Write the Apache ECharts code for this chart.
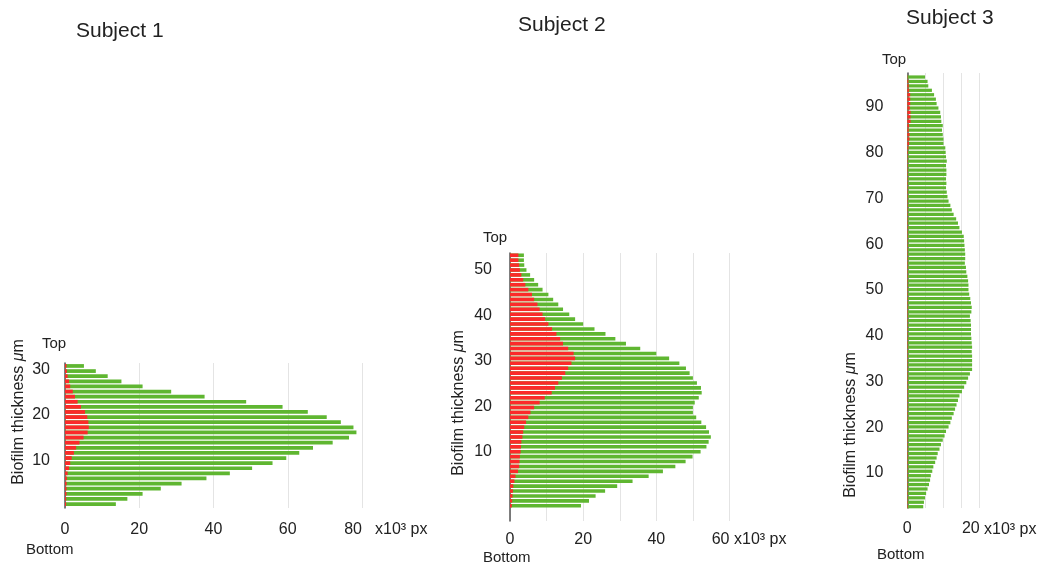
<!DOCTYPE html>
<html><head><meta charset="utf-8">
<script src="https://cdn.jsdelivr.net/npm/echarts@6/dist/echarts.min.js"></script>
<style>html,body{margin:0;padding:0;background:#fff}#c{width:1052px;height:567px}</style>
</head><body><div id="c"></div>
<script>
// Subject 1 (top -> bottom slices), x10^3 px
const s1Total = [5.1, 8.3, 11.5, 15.2, 20.9, 28.6, 37.6, 48.8, 58.6, 65.4, 70.5, 74.3, 77.7, 78.5, 76.5, 72.1, 66.8, 63.1, 59.6, 55.9, 50.4, 44.4, 38.1, 31.4, 25.8, 20.9, 16.8, 13.7];
const s1Red = [0.4, 0.5, 0.7, 1.1, 1.4, 2.1, 2.7, 3.4, 4.3, 5.4, 6.0, 6.3, 6.4, 6.1, 5.0, 3.9, 3.0, 2.4, 1.8, 1.4, 1.1, 0.7, 0.5, 0.45, 0.4, 0.4, 0.3, 0.3];
// Subject 2
const s2Total = [3.8, 3.8, 3.9, 4.5, 5.5, 6.6, 7.7, 8.9, 10.5, 11.8, 13.2, 14.5, 16.2, 17.8, 20.0, 23.1, 26.1, 28.8, 31.7, 35.6, 40.0, 43.5, 46.3, 48.1, 49.1, 50.0, 51.1, 52.2, 52.4, 51.6, 50.5, 50.0, 50.0, 50.9, 52.3, 53.6, 54.4, 54.9, 54.3, 53.7, 52.1, 49.9, 48.0, 45.2, 41.8, 37.9, 33.5, 29.3, 26.0, 23.4, 21.6, 19.4];
const s2Red = [2.3, 2.3, 2.5, 2.7, 3.1, 3.6, 4.2, 5.0, 6.0, 6.6, 7.5, 8.1, 8.9, 9.6, 10.5, 11.5, 12.7, 13.7, 14.5, 15.9, 17.4, 17.8, 16.8, 15.9, 15.1, 14.2, 13.2, 12.3, 11.4, 9.5, 8.1, 6.6, 5.6, 5.0, 4.4, 3.9, 3.6, 3.4, 3.1, 3.0, 2.9, 2.7, 2.6, 2.5, 2.2, 1.5, 1.2, 0.9, 0.8, 0.7, 0.6, 0.5];
// Subject 3
const s3Total = [4.9, 5.6, 5.8, 6.8, 7.4, 7.9, 8.1, 8.6, 9.1, 9.3, 9.4, 9.8, 9.6, 9.8, 10.0, 10.0, 10.5, 10.6, 10.7, 10.9, 10.7, 10.8, 10.8, 10.7, 10.8, 10.7, 10.9, 11.1, 11.4, 11.9, 12.3, 12.8,
  13.5, 14.0, 14.4, 15.1, 15.6, 15.7, 15.8, 15.9, 16.0, 16.0, 15.9, 16.2, 16.3, 16.6, 16.8, 16.9, 16.9, 17.1, 17.4, 17.6, 17.8, 17.7, 17.3, 17.5, 17.6, 17.6, 17.6, 17.7, 17.8, 17.9, 17.8, 17.9, 17.9,
  17.9, 17.9, 17.3, 16.8, 16.3, 15.7, 15.1, 14.4, 14.0, 13.6, 13.2, 12.8, 12.3, 11.9, 11.4, 10.7, 10.3, 9.8, 9.3, 8.9, 8.4, 8.1, 7.7, 7.2, 6.9, 6.5, 6.3, 6.0, 5.6, 5.2, 4.9, 4.6, 4.4];
const s3Red = [0.1, 0.3, 0.4, 0.5, 0.8, 0.8, 0.8, 0.7, 0.9, 0.9, 0.9, 0.5, 0.4, 0.6, 0.6, 0.5, 0.3, 0.2, 0.15, 0.15, 0.15, 0.15, 0.15, 0.15, 0.15, 0.15, 0.15, 0.15, 0.15, 0.15, 0.15, 0.15,
  0.15, 0.15, 0.15, 0.15, 0.15, 0.15, 0.15, 0.15, 0.15, 0.15, 0.15, 0.15, 0.15, 0.15, 0.15, 0.15, 0.15, 0.15, 0.15, 0.15, 0.15, 0.15, 0.15, 0.15, 0.15, 0.15, 0.15, 0.15, 0.15, 0.15, 0.15, 0.15, 0.15,
  0.15, 0.15, 0.15, 0.15, 0.15, 0.15, 0.15, 0.15, 0.15, 0.15, 0.15, 0.15, 0.15, 0.15, 0.15, 0.15, 0.15, 0.15, 0.15, 0.15, 0.15, 0.15, 0.15, 0.15, 0.15, 0.15, 0.15, 0.15, 0.15, 0.15, 0.15, 0.15, 0.15];
const s1YTicks = [10, 20, 30];
const s2YTicks = [10, 20, 30, 40, 50];
const s3YTicks = [10, 20, 30, 40, 50, 60, 70, 80, 90];
const s1XTicks = [0, 20, 40, 60, 80];
const s2XTicks = [0, 20, 40, 60];
const s3XTicks = [0, 20];
const titles = ['Subject 1', 'Subject 2', 'Subject 3'];
const unitLabel = 'x10³ px';

const FONT = 'Liberation Sans, Arial, Helvetica, sans-serif';
const TXT = '#222';
const GREEN = '#5fb631';
const RED = '#fb2a2a';
const slices = arr => arr.map((_, i) => String(i + 1));

const panels = [
  { total: s1Total, red: s1Red, yTicks: s1YTicks, xTicks: s1XTicks,
    frame: { left: 65, top: 363, width: 297, height: 145 },
    bars: { left: 65, top: 363.4, width: 297, height: 143.2 },
    xMax: 80, xInt: 20, yMin: -0.44, yMax: 31.43, yMargin: 15, xMargin: 14 },
  { total: s2Total, red: s2Red, yTicks: s2YTicks, xTicks: s2XTicks,
    frame: { left: 510, top: 253, width: 219.5, height: 268 },
    bars: { left: 510, top: 252.8, width: 219.5, height: 255.4 },
    xMax: 60, xInt: 10, yMin: -5.29, yMax: 53.74, yMargin: 18, xMargin: 11 },
  { total: s3Total, red: s3Red, yTicks: s3YTicks, xTicks: s3XTicks,
    frame: { left: 907.3, top: 73, width: 72.4, height: 435 },
    bars: { left: 907.3, top: 74.8, width: 72.4, height: 434.1 },
    xMax: 20, xInt: 5, yMin: 2.35, yMax: 97.4, yMargin: 24, xMargin: 13 }
];

const grid = [], xAxis = [], yAxis = [], series = [];
panels.forEach((p, k) => {
  const fi = k * 2, bi = k * 2 + 1;
  grid.push(Object.assign({}, p.frame), Object.assign({}, p.bars));
  xAxis.push({
    type: 'value', gridIndex: fi, min: 0, max: p.xMax, interval: p.xInt,
    axisLine: { show: false }, axisTick: { show: false },
    splitLine: { show: true, lineStyle: { color: '#e4e4e4', width: 1 } },
    axisLabel: { margin: p.xMargin, color: TXT, fontSize: 16, fontFamily: FONT, alignMaxLabel: 'right',
      formatter: v => (p.xTicks.indexOf(v) >= 0 ? String(v) : '') }
  });
  xAxis.push({ type: 'value', gridIndex: bi, min: 0, max: p.xMax, show: false });
  yAxis.push({
    type: 'value', gridIndex: fi, min: p.yMin, max: p.yMax,
    axisLine: { show: true, lineStyle: { color: '#555', width: 1.5 } },
    axisTick: { show: false }, splitLine: { show: false },
    axisLabel: { customValues: p.yTicks, margin: p.yMargin, color: TXT, fontSize: 16, fontFamily: FONT }
  });
  yAxis.push({ type: 'category', gridIndex: bi, inverse: true, data: slices(p.total), show: false });
  series.push({
    type: 'bar', xAxisIndex: bi, yAxisIndex: bi, data: p.total, barCategoryGap: '27%',
    itemStyle: { color: GREEN }, silent: true, animation: false, z: 2
  });
  series.push({
    type: 'bar', xAxisIndex: bi, yAxisIndex: bi, data: p.red, barGap: '-100%', barCategoryGap: '27%',
    itemStyle: { color: RED }, silent: true, animation: false, z: 3
  });
});

const txt = (text, x, y, size, extra) => Object.assign({
  type: 'text', x: x, y: y, silent: true,
  style: { text: text, fill: TXT, font: size + 'px ' + FONT, align: 'left', verticalAlign: 'middle' }
}, extra || {});
const yTitle = (x, y) => ({
  type: 'text', x: x, y: y, rotation: Math.PI / 2, silent: true,
  style: { text: 'Biofilm thickness {i|μ}m', fill: TXT, font: '16px ' + FONT, align: 'center', verticalAlign: 'middle',
    rich: { i: { fontStyle: 'italic', fontSize: 16, fontFamily: FONT, fill: TXT } } }
});

const graphic = [
  txt(titles[0], 76, 31, 21), txt(titles[1], 518, 25, 21), txt(titles[2], 906, 18, 21),
  txt('Top', 42, 344, 15), txt('Top', 483, 238, 15), txt('Top', 882, 60, 15),
  txt('Bottom', 26, 550, 15), txt('Bottom', 483, 558, 15), txt('Bottom', 877, 555, 15),
  txt(unitLabel, 375, 530, 16), txt(unitLabel, 734, 540, 16), txt(unitLabel, 984, 530, 16),
  yTitle(18.5, 412), yTitle(459, 403), yTitle(851, 425)
];

const chart = echarts.init(document.getElementById('c'), null, { renderer: 'canvas' });
chart.setOption({ animation: false, backgroundColor: '#fff', grid, xAxis, yAxis, series, graphic });
</script></body></html>
